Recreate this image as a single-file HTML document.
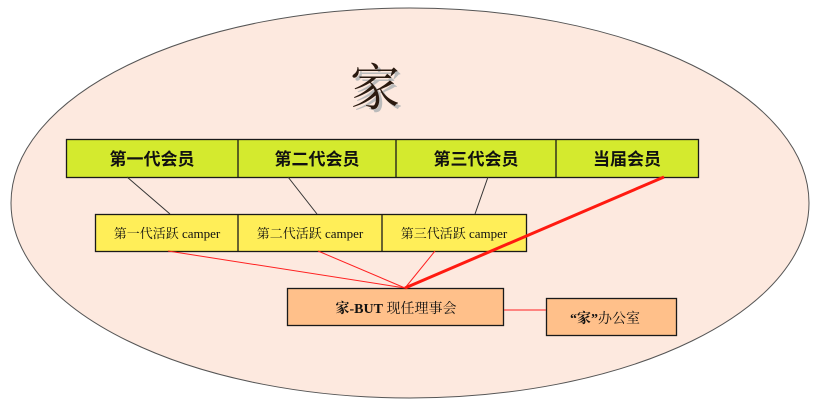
<!DOCTYPE html>
<html><head><meta charset="utf-8"><style>
body{margin:0;background:#fff;}
svg{display:block}
text{font-family:"Liberation Serif","Noto Serif CJK SC","Noto Sans CJK SC",serif;fill:#111;}
</style></head><body>
<svg width="816" height="407" viewBox="0 0 816 407" xmlns="http://www.w3.org/2000/svg">
<ellipse cx="410" cy="203" rx="399" ry="195" fill="#fde9df" stroke="#555" stroke-width="1"/>
<text x="378" y="108" font-size="50" text-anchor="middle" style="fill:#bbb">家</text>
<text x="375" y="105" font-size="50" text-anchor="middle" style="fill:#2a1a10">家</text>
<g stroke="#1a1a1a" stroke-width="1.3">
<rect x="66.5" y="139.5" width="632" height="38" fill="#d4ea2e"/>
<line x1="238" y1="139.5" x2="238" y2="177.5"/>
<line x1="396" y1="139.5" x2="396" y2="177.5"/>
<line x1="556" y1="139.5" x2="556" y2="177.5"/>
<rect x="95.5" y="214.5" width="431" height="37" fill="#ffee58"/>
<line x1="238" y1="214.5" x2="238" y2="251.5"/>
<line x1="382" y1="214.5" x2="382" y2="251.5"/>
<rect x="287.5" y="288.5" width="216" height="37" fill="#ffc08a"/>
<rect x="546.5" y="298.5" width="130" height="37" fill="#ffc08a"/>
</g>
<g stroke="#333" stroke-width="1">
<line x1="127" y1="177" x2="170" y2="214"/>
<line x1="288" y1="177" x2="317" y2="214"/>
<line x1="488" y1="177" x2="475" y2="214"/>
</g>
<g stroke="#ff2020" stroke-width="1">
<line x1="168" y1="251" x2="405" y2="288"/>
<line x1="318" y1="251" x2="405" y2="288"/>
<line x1="435" y1="251" x2="405" y2="288"/>
<line x1="504" y1="310" x2="546" y2="310"/>
</g>
<line x1="664" y1="177" x2="405" y2="288" stroke="#ff1a10" stroke-width="3"/>
<g font-size="17" font-weight="bold" text-anchor="middle" font-family="Liberation Sans, Noto Sans CJK SC, sans-serif">
<text x="152" y="165" style="font-family:'Noto Sans CJK SC',sans-serif">第一代会员</text>
<text x="317" y="165" style="font-family:'Noto Sans CJK SC',sans-serif">第二代会员</text>
<text x="476" y="165" style="font-family:'Noto Sans CJK SC',sans-serif">第三代会员</text>
<text x="627" y="165" style="font-family:'Noto Sans CJK SC',sans-serif">当届会员</text>
</g>
<g font-size="13" text-anchor="middle">
<text x="167" y="238">第一代活跃 camper</text>
<text x="310" y="238">第二代活跃 camper</text>
<text x="454" y="238">第三代活跃 camper</text>
<text x="396" y="313" font-size="14"><tspan font-weight="bold">家-BUT</tspan> 现任理事会</text>
<text x="605" y="323" font-size="14"><tspan font-weight="bold">“家”</tspan>办公室</text>
</g>
</svg>
</body></html>
